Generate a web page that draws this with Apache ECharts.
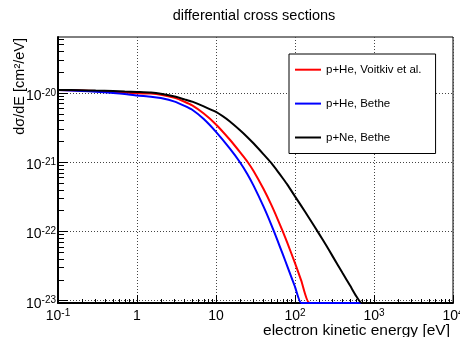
<!DOCTYPE html>
<html>
<head>
<meta charset="utf-8">
<script src="https://cdn.jsdelivr.net/npm/echarts@6/dist/echarts.min.js"></script>
<style>
  html, body { margin: 0; padding: 0; background: #fff; }
  #chart { width: 460px; height: 337px; }
</style>
</head>
<body>
<div id="chart"></div>
<script>
  // electron kinetic energy [eV]
  const energy = [0.1, 0.2, 0.3, 0.5, 0.7, 1, 1.5, 2, 3, 4, 5, 7, 10, 15, 20, 25, 30, 40, 50, 60,
    70, 80, 100, 120, 150, 200, 250, 300, 400, 500, 600, 700, 1000, 2000, 5000, 10000];

  // dsigma/dE [cm^2/eV]
  const heVoitkiv = [1.105e-20, 1.087e-20, 1.069e-20, 1.034e-20, 1.013e-20, 9.90e-21, 9.80e-21, 9.45e-21, 8.50e-21, 7.46e-21,
    6.60e-21, 5.04e-21, 3.51e-21, 2.11e-21, 1.41e-21, 1.017e-21, 7.42e-22, 4.10e-22, 2.44e-22, 1.525e-22,
    1.0e-22, 6.82e-23, 3.50e-23, 1.95e-23, 9.39e-24, 3.50e-24, 1.55e-24, 8.24e-25, 3.04e-25, 1.37e-25,
    7.29e-26, 4.15e-26, 1.21e-26, 1.11e-27, 4.7e-29, 4.3e-30];
  const heBethe = [1.105e-20, 1.069e-20, 1.041e-20, 1.0e-20, 9.67e-21, 9.20e-21, 8.84e-21, 8.44e-21, 7.51e-21, 6.51e-21,
    5.72e-21, 4.20e-21, 2.74e-21, 1.57e-21, 1.007e-21, 6.71e-22, 4.55e-22, 2.28e-22, 1.258e-22, 7.44e-23,
    4.70e-23, 3.14e-23, 1.59e-23, 8.93e-24, 4.40e-24, 1.6e-24, 7.7e-25, 4.1e-25, 1.5e-25, 7.1e-26,
    3.7e-26, 2.2e-26, 6.4e-27, 5.9e-28, 2.4e-29, 2.2e-30];
  const neBethe = [1.105e-20, 1.094e-20, 1.083e-20, 1.069e-20, 1.051e-20, 1.034e-20, 1.013e-20, 9.74e-21, 8.87e-21, 8.08e-21,
    7.49e-21, 6.41e-21, 5.32e-21, 3.88e-21, 2.92e-21, 2.30e-21, 1.86e-21, 1.30e-21, 9.77e-22, 7.46e-22,
    5.87e-22, 4.75e-22, 3.21e-22, 2.34e-22, 1.58e-22, 9.39e-23, 6.20e-23, 4.37e-23, 2.51e-23, 1.64e-23,
    1.15e-23, 8.44e-24, 4.20e-24, 1.0e-24, 1.47e-25, 3.4e-26];

  const seriesNames = ['p+He, Voitkiv et al.', 'p+He, Bethe', 'p+Ne, Bethe'];

  // axis ranges and major ticks
  const xMin = 0.1, xMax = 10000;
  const yMin = 9.27e-24, yMax = 6.43e-20;
  const xTicks = [0.1, 1, 10, 100, 1000, 10000];
  const yTicks = [1e-23, 1e-22, 1e-21, 1e-20];

  const FONT = '"Liberation Sans", Arial, Helvetica, sans-serif';

  // minor ticks 2..9 x 10^n inside the range
  function minors(lo, hi) {
    const out = [];
    for (let e = Math.floor(Math.log10(lo)); e <= Math.ceil(Math.log10(hi)); e++) {
      for (let m = 2; m <= 9; m++) {
        const v = m * Math.pow(10, e);
        if (v > lo && v < hi) out.push(v);
      }
    }
    return out;
  }

  function powLabel(v, plainSmall) {
    const e = Math.round(Math.log10(v));
    if (plainSmall && e === 0) return '{b|1}';
    if (plainSmall && e === 1) return '{b|10}';
    return '{b|10}{s|' + e + '}';
  }

  const rich = {
    b: { fontSize: 14, lineHeight: 16, fontFamily: FONT, color: '#000' },
    s: { fontSize: 10, lineHeight: 6, verticalAlign: 'top', fontFamily: FONT, color: '#000' }
  };

  const gridLine = { show: true, lineStyle: { color: '#444', width: 1, type: [1, 2] } };

  // ROOT draws points below the frame minimum along the frame bottom
  const clampY = v => Math.max(v, yMin);
  const toPoints = arr => energy.map((e, i) => [e, clampY(arr[i])]);

  const chart = echarts.init(document.getElementById('chart'), null, { renderer: 'canvas' });

  const option = {
    animation: false,
    backgroundColor: '#fff',
    title: {
      text: 'differential cross sections',
      left: 254,
      top: 8,
      padding: 0,
      textAlign: 'center',
      textStyle: { fontSize: 14.5, fontWeight: 'normal', color: '#000', fontFamily: FONT }
    },
    legend: {
      orient: 'vertical',
      left: 289,
      top: 54,
      icon: 'path://M0,0H26V2H0Z',
      itemWidth: 26,
      itemHeight: 14,
      itemGap: 21.9,
      padding: [9.7, 14, 10, 6],
      backgroundColor: '#fff',
      borderColor: '#000',
      borderWidth: 1,
      selectedMode: false,
      data: seriesNames,
      itemStyle: { borderWidth: 0 },
      textStyle: { fontSize: 11.5, color: '#000', fontFamily: FONT }
    },
    grid: {
      left: 58,
      right: 7,
      top: 37,
      bottom: 34,
      containLabel: false,
      outerBoundsMode: 'none',
      show: true,
      borderColor: '#000',
      borderWidth: 1,
      backgroundColor: 'transparent'
    },
    xAxis: [{
      type: 'log',
      min: xMin,
      max: xMax,
      position: 'bottom',
      axisLine: { show: true, onZero: false, lineStyle: { color: '#000', width: 2 } },
      axisTick: { show: true, inside: true, length: 8, customValues: xTicks, lineStyle: { color: '#000' } },
      axisLabel: {
        customValues: xTicks,
        margin: 5,
        showMinLabel: true,
        showMaxLabel: true,
        formatter: v => powLabel(v, true),
        rich: rich
      },
      splitLine: gridLine
    }, {
      type: 'log',
      min: xMin,
      max: xMax,
      position: 'bottom',
      axisLine: { show: false },
      axisTick: { show: true, inside: true, length: 4, customValues: minors(xMin, xMax), lineStyle: { color: '#000' } },
      axisLabel: { show: false },
      splitLine: { show: false }
    }],
    yAxis: [{
      type: 'log',
      min: yMin,
      max: yMax,
      position: 'left',
      axisLine: { show: true, onZero: false, lineStyle: { color: '#000', width: 2 } },
      axisTick: { show: true, inside: true, length: 10, customValues: yTicks, lineStyle: { color: '#000' } },
      axisLabel: {
        customValues: yTicks,
        margin: 2,
        padding: [6, 0, 0, 0],
        formatter: v => powLabel(v, false),
        rich: rich
      },
      splitLine: gridLine
    }, {
      type: 'log',
      min: yMin,
      max: yMax,
      position: 'left',
      axisLine: { show: false },
      axisTick: { show: true, inside: true, length: 6, customValues: minors(yMin, yMax), lineStyle: { color: '#000' } },
      axisLabel: { show: false },
      splitLine: { show: false }
    }],
    graphic: [{
      type: 'text',
      x: 450,
      y: 331,
      style: {
        text: 'electron kinetic energy [eV]',
        fontSize: 15.5,
        fontFamily: FONT,
        fill: '#000',
        align: 'right',
        verticalAlign: 'middle'
      }
    }, {
      type: 'text',
      x: 20,
      y: 38,
      rotation: Math.PI / 2,
      style: {
        text: 'dσ/dE [cm²/eV]',
        fontSize: 14.5,
        fontFamily: FONT,
        fill: '#000',
        align: 'right',
        verticalAlign: 'middle'
      }
    }],
    series: [
      { name: seriesNames[0], data: toPoints(heVoitkiv), color: '#ff0000' },
      { name: seriesNames[1], data: toPoints(heBethe), color: '#0000ff' },
      { name: seriesNames[2], data: toPoints(neBethe), color: '#000000' }
    ].map(s => Object.assign({
      type: 'line',
      xAxisIndex: 0,
      yAxisIndex: 0,
      symbol: 'none',
      smooth: 0.2,
      clip: false,
      lineStyle: { width: 2 }
    }, s))
  };

  chart.setOption(option);
</script>
</body>
</html>
